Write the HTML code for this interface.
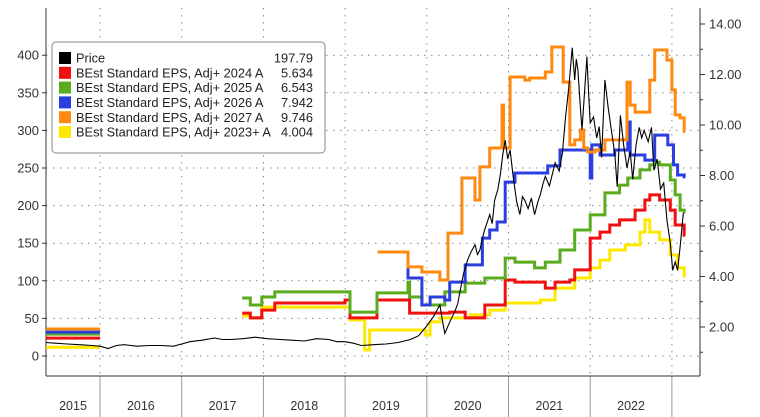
<!DOCTYPE html>
<html><head><meta charset="utf-8"><style>
body{margin:0;background:#fff;}
svg{display:block;font-family:"Liberation Sans",sans-serif;}
</style></head><body>
<svg id="chart" width="760" height="417"></svg>
<script>
const yearLabels=["2015","2016","2017","2018","2019","2020","2021","2022"];
const leftTicks=[0,50,100,150,200,250,300,350,400];
const rightTicks=[2,4,6,8,10,12,14];
const priceDates=[2015.34,2015.45,2015.6,2015.75,2015.9,2016.0,2016.1,2016.2,2016.3,2016.45,2016.6,2016.75,2016.9,2017.0,2017.1,2017.25,2017.4,2017.5,2017.6,2017.75,2017.9,2018.05,2018.2,2018.35,2018.5,2018.65,2018.8,2018.9,2019.0,2019.1,2019.2,2019.35,2019.5,2019.65,2019.8,2019.9,2020.0,2020.08,2020.16,2020.19,2020.22,2020.28,2020.35,2020.38,2020.41,2020.45,2020.50,2020.54,2020.59,2020.62,2020.65,2020.7,2020.77,2020.8,2020.83,2020.87,2020.90,2020.93,2020.96,2020.99,2021.02,2021.06,2021.10,2021.14,2021.17,2021.20,2021.24,2021.28,2021.32,2021.36,2021.39,2021.42,2021.45,2021.5,2021.57,2021.62,2021.66,2021.70,2021.74,2021.78,2021.81,2021.83,2021.85,2021.88,2021.90,2021.93,2021.96,2021.98,2022.00,2022.04,2022.08,2022.11,2022.14,2022.18,2022.22,2022.26,2022.30,2022.33,2022.37,2022.41,2022.45,2022.49,2022.52,2022.56,2022.60,2022.63,2022.66,2022.71,2022.75,2022.78,2022.82,2022.86,2022.90,2022.94,2022.98,2023.01,2023.04,2023.07,2023.10,2023.12,2023.14];
const priceValues=[18,17,16,15,14,13,10,14,15,13,14,14,13,16,19,21,24,22,22,23,25,23,22,21,20,23,22,19,19,17,14,15,16,18,22,27,40,52,68,48,30,45,61,70,88,110,128,138,148,135,141,165,188,176,207,222,241,268,287,262,274,236,205,188,212,207,196,210,188,205,215,228,239,226,257,246,270,320,360,410,367,395,380,330,301,350,398,350,310,318,290,305,264,367,330,300,270,225,320,280,250,272,235,280,304,290,300,285,304,247,262,222,230,180,150,114,125,114,145,167,190,211,205,197.79];
const eps2027Dates=[2015.34,2016.0,2019.40,2019.77,2019.94,2020.16,2020.26,2020.43,2020.59,2020.65,2020.77,2020.92,2020.94,2021.02,2021.20,2021.26,2021.45,2021.53,2021.67,2021.75,2021.81,2021.88,2021.92,2021.97,2022.06,2022.18,2022.45,2022.49,2022.55,2022.73,2022.79,2022.94,2023.00,2023.04,2023.10,2023.15];
const eps2027Values=[1.92,null,4.97,4.38,4.18,3.86,5.72,7.90,7.03,8.34,9.09,10.79,9.09,11.90,11.78,11.86,12.10,13.09,11.70,9.21,9.41,9.80,9.09,8.93,9.01,9.41,11.70,10.79,10.51,11.78,12.97,12.57,11.39,10.40,10.28,9.746];
const eps2026Dates=[2015.34,2016.0,2019.40,2019.77,2019.94,2020.04,2020.22,2020.28,2020.47,2020.68,2020.77,2020.86,2020.96,2021.08,2021.48,2021.63,2022.00,2022.02,2022.12,2022.30,2022.46,2022.49,2022.67,2022.79,2022.95,2023.02,2023.07,2023.15];
const eps2026Values=[1.80,null,4.97,3.94,2.87,3.19,3.07,3.78,4.46,5.52,5.84,6.16,7.74,8.10,8.38,9.01,7.90,9.21,8.81,9.01,10.12,8.81,8.61,9.60,9.21,8.42,8.02,7.942];
const eps2025Dates=[2015.34,2016.0,2017.74,2017.84,2017.98,2018.14,2019.06,2019.39,2019.77,2019.79,2019.94,2020.22,2020.47,2020.71,2020.96,2021.08,2021.32,2021.45,2021.63,2021.81,2022.00,2022.18,2022.36,2022.46,2022.61,2022.73,2022.79,2022.85,2022.98,2023.04,2023.10,2023.15];
const eps2025Values=[1.72,null,3.15,2.87,3.19,3.39,2.59,3.35,3.78,3.19,2.87,3.39,3.74,3.94,4.73,4.57,4.34,4.57,5.05,5.84,6.44,7.31,7.62,7.90,8.22,8.42,8.53,8.42,7.82,7.23,6.63,6.543];
const eps2024Dates=[2015.34,2016.0,2017.74,2017.84,2017.98,2018.14,2019.0,2019.06,2019.39,2019.79,2020.28,2020.47,2020.71,2020.96,2021.08,2021.45,2021.57,2021.75,2021.81,2022.00,2022.12,2022.24,2022.36,2022.55,2022.67,2022.73,2022.85,2022.98,2023.04,2023.15];
const eps2024Values=[1.56,null,2.55,2.36,2.67,2.95,3.07,2.36,3.07,2.55,2.59,2.36,2.87,3.86,3.78,3.54,3.78,3.86,4.26,5.52,5.76,6.04,6.24,6.63,7.03,7.23,7.03,6.63,6.04,5.634];
const eps2023Dates=[2015.34,2016.0,2017.74,2017.84,2017.98,2019.06,2019.24,2019.30,2019.98,2020.04,2020.16,2020.53,2020.77,2020.96,2021.39,2021.57,2021.81,2022.00,2022.12,2022.24,2022.43,2022.61,2022.67,2022.73,2022.85,2022.98,2023.07,2023.15];
const eps2023Values=[1.20,null,2.44,2.36,2.79,2.28,1.09,1.88,1.68,2.20,2.36,2.48,2.67,2.95,3.07,3.54,3.94,4.34,4.65,5.05,5.25,5.76,6.24,5.76,5.45,4.85,4.34,4.004];
const legendNames=["Price","BEst Standard EPS, Adj+ 2024 A","BEst Standard EPS, Adj+ 2025 A","BEst Standard EPS, Adj+ 2026 A","BEst Standard EPS, Adj+ 2027 A","BEst Standard EPS, Adj+ 2023+ A"];
const legendValues=["197.79","5.634","6.543","7.942","9.746","4.004"];

const NS="http://www.w3.org/2000/svg";
const svg=document.getElementById('chart');
const X0=46,X1=700,Y0=376,YT=8;
const x=d=>100+(d-2016)*81.7;
const yL=v=>356-v*0.752;
const yR=v=>327-(v-2)*25.25;
function mk(tag,attrs,parent){const e=document.createElementNS(NS,tag);for(const k in attrs)e.setAttribute(k,attrs[k]);(parent||svg).appendChild(e);return e;}

leftTicks.forEach(t=>{const l=mk('line',{x1:X0,x2:X1,y1:yL(t),y2:yL(t),stroke:'#888','stroke-width':1,'stroke-dasharray':'1.5 5.5'});

});
for(let i=0;i<8;i++){const xx=x(2016+i);
const l=mk('line',{x1:xx,x2:xx,y1:YT,y2:Y0,stroke:'#888','stroke-width':1,'stroke-dasharray':'1.5 5.5'});


const s=mk('line',{x1:xx,x2:xx,y1:Y0,y2:417,stroke:'#999','stroke-width':1});

}
const la=mk('line',{x1:X0,x2:X0,y1:YT,y2:Y0,stroke:'#333','stroke-width':1});


const ra=mk('line',{x1:X1,x2:X1,y1:YT,y2:Y0,stroke:'#333','stroke-width':1});


const ba=mk('line',{x1:X0,x2:X1,y1:Y0,y2:Y0,stroke:'#333','stroke-width':1});


leftTicks.forEach(t=>{mk('line',{x1:X0-4,x2:X0,y1:yL(t),y2:yL(t),stroke:'#333'});
const tx=mk('text',{x:X0-7,y:yL(t)+4.5,'text-anchor':'end','font-size':13,fill:'#333'});tx.textContent=t;

});
for(let v=1;v<=15;v+=1){const yy=yR(v);if(yy<YT||yy>Y0)continue;mk('line',{x1:X1,x2:X1+(v%2?3:5),y1:yy,y2:yy,stroke:'#333'});}
rightTicks.forEach(t=>{const tx=mk('text',{x:X1+9,y:yR(t)+4.5,'font-size':13,fill:'#333'});tx.textContent=t.toFixed(2);

});
yearLabels.forEach((lab,i)=>{const a=i===0?X0:x(2015+i),b=x(2016+i);
const tx=mk('text',{x:(a+b)/2,y:410,'text-anchor':'middle','font-size':12.5,fill:'#333'});tx.textContent=lab;

});

function stepPath(ds,vs){let d='',pen=false;
for(let i=0;i<ds.length;i++){const v=vs[i];
if(v===null){if(pen){d+=' H'+x(ds[i]).toFixed(1);}pen=false;continue;}
const xx=x(ds[i]).toFixed(1),yy=yR(v).toFixed(1);
if(!pen){d+=' M'+xx+' '+yy;pen=true;}else{d+=' H'+xx+' V'+yy;}}
if(pen)d+=' H'+(x(ds[ds.length-1])+1).toFixed(1);return d;}
const series=[
[eps2023Dates,eps2023Values,'#ffe800','eps-2023-line'],
[eps2024Dates,eps2024Values,'#f01010','eps-2024-line'],
[eps2025Dates,eps2025Values,'#5aab1e','eps-2025-line'],
[eps2026Dates,eps2026Values,'#2b3fe0','eps-2026-line'],
[eps2027Dates,eps2027Values,'#ff8a10','eps-2027-line']];
series.forEach(s=>{const p=mk('path',{d:stepPath(s[0],s[1]),fill:'none',stroke:s[2],'stroke-width':3,'stroke-linejoin':'miter'});

});
let pd='';priceDates.forEach((d,i)=>{pd+=(i?' L':'M')+x(d).toFixed(1)+' '+yL(priceValues[i]).toFixed(1);});
const pp=mk('path',{d:pd,fill:'none',stroke:'#000','stroke-width':1.1});



const lg=mk('g',{});


mk('rect',{x:52,y:42,width:273,height:111,rx:4,fill:'#fff',stroke:'#888','stroke-width':1},lg);
const cols=['#000','#f01010','#5aab1e','#2b3fe0','#ff8a10','#ffe800'];
legendNames.forEach((n,i)=>{const cy=58+i*14.8;
const g=mk('g',{},lg);


mk('rect',{x:59,y:cy-6,width:12,height:12,fill:cols[i]},g);
const t=mk('text',{x:76,y:cy+4.6,'font-size':12.8,fill:'#222'},g);t.textContent=n;
const v=mk('text',{x:313,y:cy+4.6,'font-size':12.8,fill:'#222','text-anchor':'end'},g);v.textContent=legendValues[i];});
</script>
</body></html>
